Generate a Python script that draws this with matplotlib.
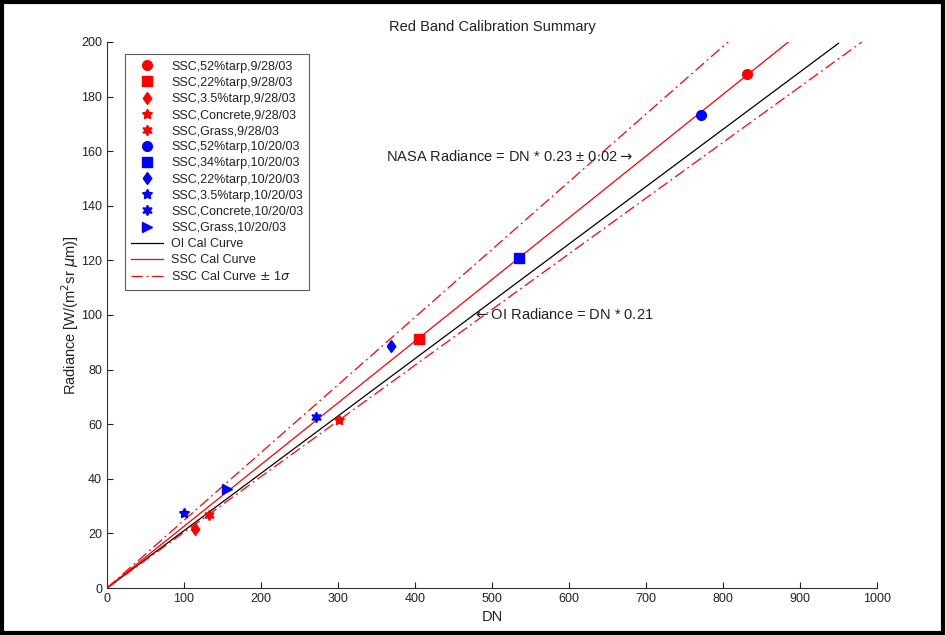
import matplotlib
matplotlib.use("Agg")
import matplotlib.pyplot as plt
import numpy as np
from matplotlib.patches import Rectangle

plt.rcParams['font.family'] = ['Liberation Sans', 'DejaVu Sans']

# ---- data ----
labels = ["SSC,52%tarp,9/28/03", "SSC,22%tarp,9/28/03", "SSC,3.5%tarp,9/28/03",
          "SSC,Concrete,9/28/03", "SSC,Grass,9/28/03",
          "SSC,52%tarp,10/20/03", "SSC,34%tarp,10/20/03", "SSC,22%tarp,10/20/03",
          "SSC,3.5%tarp,10/20/03", "SSC,Concrete,10/20/03", "SSC,Grass,10/20/03"]
dn = [831, 405, 114, 301, 132, 771, 535, 369, 100, 272, 156]
radiance = [188.4, 91.2, 21.6, 61.6, 26.6, 173.4, 121.0, 88.7, 27.3, 62.7, 36.4]
colors = ['red'] * 5 + ['blue'] * 6

diamond = [(-0.72, 0), (0, 1), (0.72, 0), (0, -1), (-0.72, 0)]
markers = ['o', 's', diamond, (5, 1, 0), (6, 1, 0), 'o', 's', diamond, (5, 1, 0), (6, 1, 0), '>']
msizes = [7, 7, 8.5, 7.5, 7.5, 7, 7, 8.5, 7.5, 7.5, 7]

curve_labels = ["OI Cal Curve", "SSC Cal Curve", "SSC Cal Curve $\\pm$ 1$\\sigma$", None]
curve_slopes = [0.21, 0.226, 0.248, 0.204]
curve_dn_end = [950, 885, 807, 980]
curve_colors = ['black', 'red', 'red', 'red']
curve_styles = ['-', '-', (0, (9, 3, 1.5, 3)), (0, (9, 3, 1.5, 3))]

# ---- figure ----
fig = plt.figure(figsize=(9.46, 6.35), dpi=100)
ax = fig.add_axes([0.1131, 0.074, 0.8140, 0.860])

for i in range(len(dn)):
    ax.plot([dn[i]], [radiance[i]], linestyle='none', marker=markers[i],
            color=colors[i], markeredgecolor=colors[i], markersize=msizes[i],
            label=labels[i])

for lab, s, e, c, ls in zip(curve_labels, curve_slopes, curve_dn_end, curve_colors, curve_styles):
    x = np.array([0, e])
    ax.plot(x, s * x, color=c, linestyle=ls, linewidth=0.9,
            label=lab if lab else '_nolegend_', zorder=1)

ax.set_xlim(0, 1000)
ax.set_ylim(0, 200)
ax.set_xticks(np.arange(0, 1001, 100))
ax.set_yticks(np.arange(0, 201, 20))
ax.tick_params(direction='in', length=4, labelsize=9, colors='#222222')
for sp in ['top', 'right']:
    ax.spines[sp].set_visible(False)
ax.spines['left'].set_color('#333333')
ax.spines['bottom'].set_color('#333333')

ax.set_title("Red Band Calibration Summary", fontsize=10.5, pad=8, color='#222222')
ax.set_xlabel("DN", fontsize=10.5, labelpad=4, color='#222222')
ax.set_ylabel("Radiance [W/(m$^2$sr $\\mu$m)]", fontsize=10.5, labelpad=0, color='#222222')

ax.text(362, 158, "NASA Radiance = DN * 0.23 \u00b1 0.02$\\rightarrow$", fontsize=10.5,
        va='center', ha='left', color='#222222')
ax.text(475, 100, "$\\leftarrow$OI Radiance = DN * 0.21", fontsize=10.5,
        va='center', ha='left', color='#222222')

leg = ax.legend(loc='upper left', bbox_to_anchor=(0.023, 0.977), borderaxespad=0,
                fontsize=9, frameon=True, fancybox=False, handlelength=2.6,
                labelspacing=0.33, borderpad=0.5, handletextpad=0.6)
leg.get_frame().set_edgecolor('#333333')
leg.get_frame().set_linewidth(0.8)
for t in leg.get_texts():
    t.set_color('#222222')

fig.patches.append(Rectangle((0.002, 0.003), 0.995, 0.994, transform=fig.transFigure,
                             fill=False, edgecolor='black', linewidth=3))

fig.savefig("out.png", dpi=100)
